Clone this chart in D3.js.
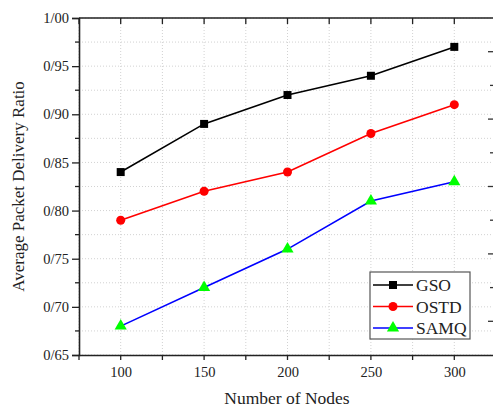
<!DOCTYPE html>
<html>
<head>
<meta charset="utf-8">
<script src="https://cdn.jsdelivr.net/npm/d3@7"></script>
<style>
  body { margin: 0; background: #fff; }
  svg { display: block; }
  text { font-family: "Liberation Serif", "DejaVu Serif", serif; fill: #222; }
</style>
</head>
<body>
<svg id="chart" width="493" height="408"></svg>
<script>
const nodes = [100, 150, 200, 250, 300];
const gso = [0.84, 0.89, 0.92, 0.94, 0.97];
const ostd = [0.79, 0.82, 0.84, 0.88, 0.91];
const samq = [0.68, 0.72, 0.76, 0.81, 0.83];
const yTicks = [0.65, 0.70, 0.75, 0.80, 0.85, 0.90, 0.95, 1.00];
const xTicks = [100, 150, 200, 250, 300];

const series = [
    { name: 'GSO', values: gso, color: '#000000', fill: '#000000', symbol: d3.symbolSquare, size: 64 },
    { name: 'OSTD', values: ostd, color: '#ff0000', fill: '#ff0000', symbol: d3.symbolCircle, size: 64 },
    { name: 'SAMQ', values: samq, color: '#0000ff', fill: '#00ff00', symbol: d3.symbolTriangle, size: 64 }
];

const svg = d3.select('#chart');
const plotLeft = 79, plotRight = 496, plotTop = 18, plotBottom = 355;

const x = d3.scaleLinear().domain([75, 325]).range([plotLeft, plotRight]);
const y = d3.scaleLinear().domain([0.65, 1.00]).range([plotBottom, plotTop]);
// second (cut off) axis on the right, only its ticks are visible
const yRight = d3.scaleLinear().domain([0, 10]).range([plotBottom, plotTop]);

const fmt = v => d3.format('.2f')(v).replace('.', '/');

// grid (major + minor)
const xGrid = d3.range(75, 326, 25);
const yGrid = d3.range(0.65, 1.0001, 0.025);
svg.append('g').selectAll('line').data(xGrid).enter().append('line')
    .attr('x1', d => x(d)).attr('x2', d => x(d))
    .attr('y1', plotTop).attr('y2', plotBottom)
    .attr('stroke', '#d2d2d2').attr('stroke-width', 1).attr('stroke-dasharray', '1,2');
svg.append('g').selectAll('line').data(yGrid).enter().append('line')
    .attr('x1', plotLeft).attr('x2', plotRight)
    .attr('y1', d => y(d)).attr('y2', d => y(d))
    .attr('stroke', '#d2d2d2').attr('stroke-width', 1).attr('stroke-dasharray', '1,2');

// axes
const yAxis = d3.axisLeft(y).tickValues(yTicks).tickFormat(fmt).tickSize(7).tickPadding(3);
const gy = svg.append('g').attr('transform', `translate(${plotLeft},0)`).call(yAxis);
const xAxis = d3.axisBottom(x).tickValues(xTicks).tickFormat(d3.format('d')).tickSize(0).tickPadding(12);
const gx = svg.append('g').attr('transform', `translate(0,${plotBottom})`).call(xAxis);

[gx, gy].forEach(g => {
    g.select('.domain').attr('stroke', '#222').attr('stroke-width', 1.6);
    g.selectAll('.tick line').attr('stroke', '#222').attr('stroke-width', 1.3);
    g.selectAll('.tick text').style('font-family', '"Liberation Serif", serif').style('font-size', '14.5px').attr('fill', '#222');
});

// minor ticks on left axis
const yMinor = [0.675, 0.725, 0.775, 0.825, 0.875, 0.925, 0.975];
svg.append('g').selectAll('line').data(yMinor).enter().append('line')
    .attr('x1', plotLeft - 4).attr('x2', plotLeft)
    .attr('y1', d => y(d)).attr('y2', d => y(d))
    .attr('stroke', '#222').attr('stroke-width', 1.3);

// bottom ticks (outward)
svg.append('g').selectAll('line').data(xGrid).enter().append('line')
    .attr('x1', d => x(d)).attr('x2', d => x(d))
    .attr('y1', plotBottom).attr('y2', plotBottom + 5)
    .attr('stroke', '#222').attr('stroke-width', 1.3);

// top frame + inward ticks
svg.append('line').attr('x1', plotLeft).attr('x2', plotRight).attr('y1', plotTop).attr('y2', plotTop)
    .attr('stroke', '#222').attr('stroke-width', 1.6);
svg.append('g').selectAll('line').data(xGrid).enter().append('line')
    .attr('x1', d => x(d)).attr('x2', d => x(d))
    .attr('y1', plotTop).attr('y2', plotTop + 6)
    .attr('stroke', '#222').attr('stroke-width', 1.3);

// right frame (outside the window) + its ticks
svg.append('line').attr('x1', plotRight).attr('x2', plotRight).attr('y1', plotTop).attr('y2', plotBottom)
    .attr('stroke', '#222').attr('stroke-width', 1.6);
svg.append('g').selectAll('line').data(d3.range(1, 10)).enter().append('line')
    .attr('x1', d => d % 2 ? 488 : 490).attr('x2', plotRight)
    .attr('y1', d => yRight(d)).attr('y2', d => yRight(d))
    .attr('stroke', '#333').attr('stroke-width', 1.3);

// lines + markers
const line = d3.line().x((d, i) => x(nodes[i])).y(d => y(d));
series.forEach(s => {
    svg.append('path').datum(s.values)
        .attr('d', line)
        .attr('fill', 'none')
        .attr('stroke', s.color)
        .attr('stroke-width', 1.6);
    svg.append('g').selectAll('path').data(s.values).enter().append('path')
        .attr('d', d3.symbol().type(s.symbol).size(s.size))
        .attr('transform', (d, i) => `translate(${x(nodes[i])},${y(d)})`)
        .attr('fill', s.fill);
});

// legend
const legend = svg.append('g').attr('transform', 'translate(370,272)');
legend.append('rect').attr('width', 100).attr('height', 67)
    .attr('fill', '#fff').attr('stroke', '#555').attr('stroke-width', 1.2);
series.forEach((s, i) => {
    const ly = 13 + i * 21.5;
    legend.append('line').attr('x1', 3).attr('x2', 43).attr('y1', ly).attr('y2', ly)
        .attr('stroke', s.color).attr('stroke-width', 1.6);
    legend.append('path')
        .attr('d', d3.symbol().type(s.symbol).size(s.size))
        .attr('transform', `translate(23,${ly})`)
        .attr('fill', s.fill);
    legend.append('text').attr('x', 46).attr('y', ly).attr('dy', '0.35em')
        .style('font-size', '17.5px').text(s.name);
});

// axis titles
svg.append('text')
    .attr('transform', `translate(24,${(plotTop + plotBottom) / 2}) rotate(-90)`)
    .attr('text-anchor', 'middle')
    .style('font-size', '17px')
    .text('Average Packet Delivery Ratio');
svg.append('text')
    .attr('x', 287).attr('y', 404)
    .attr('text-anchor', 'middle')
    .style('font-size', '17.5px')
    .text('Number of Nodes');
</script>
</body>
</html>
